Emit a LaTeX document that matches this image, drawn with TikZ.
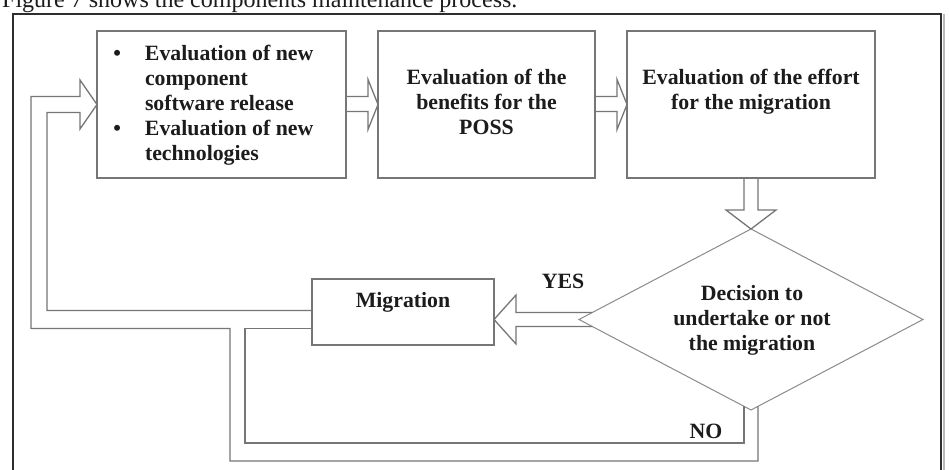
\documentclass[tikz,border=0pt]{standalone}
\usepackage{fontspec}
\setmainfont{Liberation Serif}
\usetikzlibrary{calc,shapes.geometric}
\definecolor{boxline}{HTML}{767676}
\definecolor{frameline}{HTML}{2E2E2E}
\definecolor{ink}{HTML}{1C1C1C}
\tikzset{
  stepbox/.style={rectangle, draw=boxline, line width=1.3pt, inner sep=0pt, outer sep=0pt},
  choice/.style={diamond, draw=boxline!85, line width=1pt, inner sep=0pt, outer sep=0pt},
  pipe/.style={draw=boxline, line width=1.3pt, line join=miter},
  frame/.style={draw=frameline, line width=2pt},
  label/.style={font=\fontsize{21.8}{25}\selectfont\bfseries, text=ink, inner sep=0pt, outer sep=0pt, align=center},
}
\begin{document}
\begin{tikzpicture}[x=1pt,y=-1pt]
\useasboundingbox (0,0) rectangle (949,470);
\clip (0,0) rectangle (949,470);
\fill[white] (0,0) rectangle (949,470);

% lead-in sentence above the figure frame
\node[anchor=base west, inner sep=0pt, font=\fontsize{24}{28}\selectfont, text=ink] (cap) at (2,8) {Figure 7 shows the components maintenance process.};

% figure frame
\draw[frame] (13,480) -- (13,14) -- (940.5,14) -- (940.5,480);
\draw[gray!55, line width=1.2pt] (944,14) -- (944,480);

% process steps
\node[stepbox, minimum width=249pt, minimum height=147pt] (b1) at (221.5,104.5) {};
\node[stepbox, minimum width=217pt, minimum height=147pt] (b2) at (486.5,104.5) {};
\node[stepbox, minimum width=248pt, minimum height=147pt] (b3) at (751,104.5) {};
\node[choice, minimum width=344pt, minimum height=181pt] (dec) at (751,319.5) {};
\node[stepbox, minimum width=182pt, minimum height=66pt] (mig) at (403,312) {};

% texts
\node[label, anchor=north west, align=left] (t1) at (145,45)
  {\llap{\textbullet\hspace{24pt}}Evaluation of new\\component\\software release\\\llap{\textbullet\hspace{24pt}}Evaluation of new\\technologies};
\node[label, anchor=north] (t2) at (486.5,69.2) {Evaluation of the\\benefits for the\\POSS};
\node[label, anchor=north] (t3) at (751,69.2) {Evaluation of the effort\\for the migration};
\node[label, anchor=north] (t4) at (752,285) {Decision to\\undertake or not\\the migration};
\node[label, anchor=north] (t5) at (403,292) {Migration};
\node[label, anchor=north] (yes) at (563,274) {YES};
\node[label, anchor=north] (no) at (706,424) {NO};

% block arrows between the evaluation steps
\draw[pipe] ($(b1.east)+(0,-8)$) -- ($(b2.west)+(-10,-8)$) -- ($(b2.west)+(-10,-25)$) -- (b2.west)
  -- ($(b2.west)+(-10,25)$) -- ($(b2.west)+(-10,7)$) -- ($(b1.east)+(0,7)$);
\draw[pipe] ($(b2.east)+(0,-8)$) -- ($(b3.west)+(-10,-8)$) -- ($(b3.west)+(-10,-25)$) -- (b3.west)
  -- ($(b3.west)+(-10,25)$) -- ($(b3.west)+(-10,7)$) -- ($(b2.east)+(0,7)$);

% effort evaluation -> decision
\draw[pipe] ($(b3.south)+(-7,0)$) -- ($(dec.north)+(-7,-19)$) -- ($(dec.north)+(-25,-19)$) -- (dec.north)
  -- ($(dec.north)+(25,-19)$) -- ($(dec.north)+(7,-19)$) -- ($(b3.south)+(7,0)$);

% YES branch: decision -> migration
\coordinate (yt) at (mig.east |- dec.west);
\draw[pipe] ($(dec.west)+(13.3,-7)$) -- ($(yt)+(22,-7)$) -- ($(yt)+(22,-24.5)$) -- (yt)
  -- ($(yt)+(22,24.5)$) -- ($(yt)+(22,7)$) -- ($(dec.west)+(13.3,7)$);

% feedback loop: migration -> first step, joined by the NO branch
\coordinate (ml) at (mig.west |- dec.west);
\coordinate (lt) at (b1.west);
\draw[pipe] ($(ml)+(0,-9)$) -| ($(lt)+(-50,8)$) -- ($(lt)+(-17,8)$) -- ($(lt)+(-17,24.5)$) -- (lt)
  -- ($(lt)+(-17,-24.5)$) -- ($(lt)+(-17,-8)$) -- ($(lt)+(-66,-8)$)
  |- ($(ml)+(-82,9)$) |- ($(dec.south)+(7,51)$) -- ($(dec.south)+(7,-3.7)$);
\draw[pipe] ($(dec.south)+(-7,-3.7)$) -- ($(dec.south)+(-7,33)$) -| ($(ml)+(-67,9)$) -- ($(ml)+(0,9)$);
\end{tikzpicture}
\end{document}
